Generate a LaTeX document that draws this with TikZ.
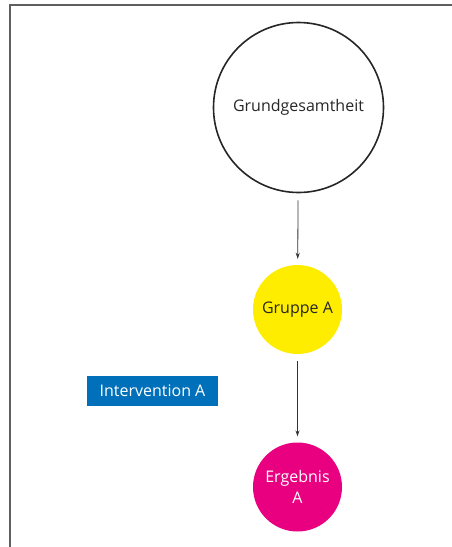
\documentclass[tikz,border=0pt]{standalone}
\usepackage{fontspec}
\setmainfont{Open Sans}
\usetikzlibrary{arrows.meta,positioning}
\definecolor{framegray}{RGB}{95,95,95}
\definecolor{groupyellow}{RGB}{255,237,0}
\definecolor{resultmagenta}{RGB}{232,0,128}
\definecolor{interblue}{RGB}{0,112,186}
\tikzset{
    population/.style={circle, draw=black!85, line width=1.6pt, minimum size=170pt, inner sep=0pt, font=\fontsize{16}{20}\selectfont, text=black!85},
    group/.style={circle, fill=groupyellow, minimum size=89pt, inner sep=0pt, font=\fontsize{16}{20}\selectfont, text=black!85},
    result/.style={circle, fill=resultmagenta, minimum size=89pt, inner sep=0pt, align=center, font=\fontsize{16}{21}\selectfont, text=white},
    treatment/.style={rectangle, fill=interblue, minimum width=131pt, minimum height=30pt, inner sep=0pt, font=\fontsize{16}{20}\selectfont, text=white},
    flow/.style={-{Stealth[length=6pt,width=4pt]}, line width=0.8pt, black!80, shorten <=7pt, shorten >=6pt},
}
\begin{document}
\begin{tikzpicture}[x=1pt, y=-1pt]
    \useasboundingbox (0,0) rectangle (452,547);

    % frame
    \draw[framegray, line width=1.5pt] (10,547) -- (10,5) -- (452,5);

    % circles
    \node[population] (pop) at (298.5,107.5) {Grundgesamtheit};
    \node[group] (grpA) at (297.5,309.5) {Gruppe A};
    \node[result] (resA) at (297.5,487) {Ergebnis\\A};

    % intervention
    \node[treatment] (intA) at (152.5,391) {Intervention A};

    % arrows
    \draw[flow] (pop) -- (grpA);
    \draw[flow] (grpA) -- (resA);
\end{tikzpicture}
\end{document}
